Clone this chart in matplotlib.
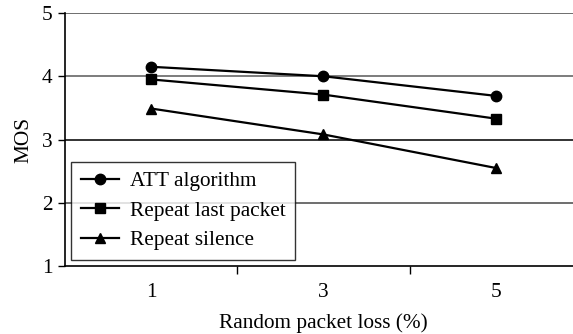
import matplotlib
matplotlib.use("Agg")
import matplotlib.pyplot as plt

loss_labels = ["1", "3", "5"]
att_algorithm = [4.15, 4.0, 3.69]
repeat_last_packet = [3.95, 3.71, 3.33]
repeat_silence = [3.49, 3.08, 2.55]

plt.rcParams["font.family"] = ["Liberation Serif", "DejaVu Serif"]
plt.rcParams["font.size"] = 15.3

fig = plt.figure(figsize=(5.73, 3.34), dpi=100)
ax = fig.add_axes([0.1134, 0.2036, 0.9023, 0.7574])

x = range(len(loss_labels))
series = [
    (att_algorithm, "o", "ATT algorithm"),
    (repeat_last_packet, "s", "Repeat last packet"),
    (repeat_silence, "^", "Repeat silence"),
]
for vals, mk, lab in series:
    ax.plot(x, vals, color="black", lw=1.6, marker=mk, markersize=7.5, label=lab, zorder=3)

ax.set_xlim(-0.5, 2.5)
ax.set_ylim(1, 5)
ax.set_yticks([1, 2, 3, 4, 5])
ax.set_xticks(list(x))
ax.set_xticklabels(loss_labels)
ax.set_xticks([0.5, 1.5], minor=True)
ax.tick_params(axis="x", which="major", length=0, pad=12)
ax.tick_params(axis="x", which="minor", length=6, width=1, direction="out", color="black")
ax.tick_params(axis="y", length=5, width=1, direction="out", pad=4)

for yv, c in [(2, "#555555"), (3, "#111111"), (4, "#666666"), (5, "#555555")]:
    ax.axhline(yv, color=c, lw=1.2, zorder=1)

for side in ["top", "right"]:
    ax.spines[side].set_visible(False)
ax.spines["left"].set_linewidth(1.2)
ax.spines["bottom"].set_linewidth(1.2)

ax.set_xlabel("Random packet loss (%)", labelpad=8)
ax.set_ylabel("MOS", labelpad=6)

leg = ax.legend(loc="lower left", bbox_to_anchor=(0.0, 0.0), frameon=True,
                fancybox=False, edgecolor="black", handlelength=1.8,
                borderpad=0.45, labelspacing=0.45, handletextpad=0.5,
                borderaxespad=0.3)
leg.get_frame().set_linewidth(1.0)

fig.savefig("out.png", dpi=100)
